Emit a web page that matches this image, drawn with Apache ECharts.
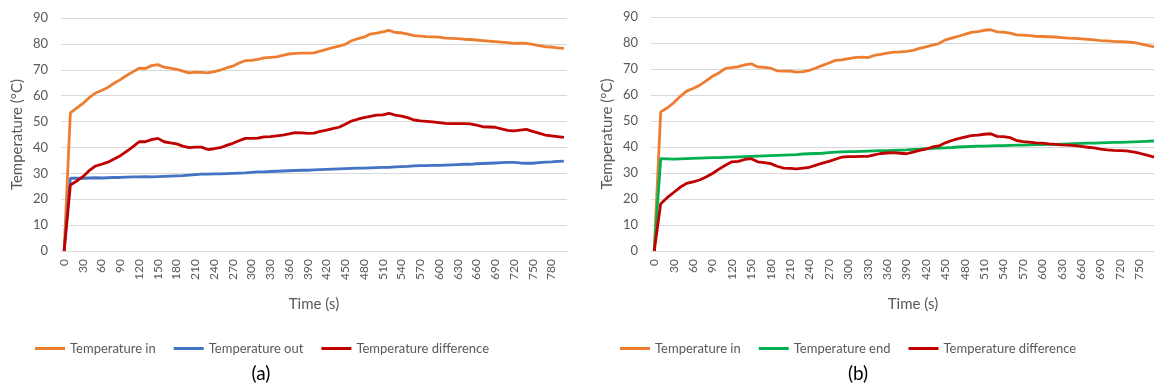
<!DOCTYPE html>
<html><head><meta charset="utf-8">
<script src="https://cdn.jsdelivr.net/npm/echarts@6/dist/echarts.min.js"></script>
<style>html,body{margin:0;padding:0;background:#fff}#c{width:1154px;height:385px}</style>
</head><body><div id="c"></div>
<script>
// time categories (s), every 10 s
var times = [];
for (var t = 0; t <= 800; t += 10) times.push(String(t));

// Chart (a)
var aTempIn = [0,53.4,55.2,57,59.2,61,62,63.2,64.8,66.2,67.8,69.2,70.6,70.5,71.6,72,71,70.6,70.2,69.5,68.8,69.1,69,68.8,69.3,69.9,70.7,71.4,72.6,73.5,73.6,74,74.6,74.8,75,75.6,76.1,76.3,76.4,76.4,76.5,77.2,77.9,78.6,79.1,79.8,81.2,82,82.6,83.8,84.2,84.6,85.2,84.4,84.3,83.8,83.2,83,82.8,82.7,82.6,82.2,82.1,82,81.8,81.7,81.5,81.3,81.1,80.9,80.7,80.5,80.2,80.3,80.2,79.8,79.3,78.9,78.8,78.5,78.3];
var aTempOut = [0,28.1,28.1,28.1,28.2,28.3,28.2,28.3,28.4,28.4,28.5,28.6,28.6,28.7,28.6,28.7,28.8,28.9,29,29.1,29.3,29.5,29.7,29.7,29.8,29.8,29.9,30,30.1,30.2,30.4,30.6,30.6,30.7,30.8,30.9,31,31.1,31.2,31.2,31.3,31.4,31.5,31.6,31.7,31.8,31.9,32,32,32.1,32.2,32.3,32.3,32.5,32.6,32.7,32.9,33,33,33.1,33.1,33.2,33.3,33.4,33.5,33.5,33.7,33.8,33.9,34,34.1,34.2,34.2,34,33.9,33.9,34.1,34.3,34.4,34.6,34.7];
var aTempDiff = [0,25.5,27,28.7,31,32.8,33.5,34.3,35.5,36.8,38.5,40.2,42.2,42.2,43,43.5,42.2,41.8,41.4,40.5,39.9,40.1,40.1,39.2,39.5,39.9,40.8,41.6,42.6,43.5,43.5,43.6,44.1,44.2,44.5,44.8,45.2,45.7,45.6,45.4,45.5,46.2,46.7,47.3,47.8,49,50.2,50.9,51.5,52,52.5,52.6,53.2,52.5,52.1,51.5,50.6,50.3,50.1,49.9,49.6,49.3,49.2,49.2,49.2,49.1,48.6,48,47.9,47.8,47.2,46.6,46.4,46.7,47,46.2,45.5,44.8,44.5,44.2,43.9];

// Chart (b)
var bTempIn = [0,53.5,55,57,59.4,61.5,62.5,63.7,65.4,67.2,68.5,70.2,70.5,70.9,71.6,72,70.8,70.6,70.3,69.3,69.2,69.2,68.8,69,69.5,70.4,71.4,72.3,73.3,73.5,74,74.4,74.6,74.4,75.2,75.6,76.1,76.5,76.6,76.8,77.2,77.9,78.5,79.2,79.8,81.2,81.9,82.6,83.3,84.1,84.4,84.9,85.1,84.3,84.2,83.8,83.1,83,82.8,82.6,82.5,82.4,82.3,82.1,81.9,81.8,81.6,81.4,81.2,80.9,80.8,80.6,80.5,80.4,80.2,79.8,79.2,78.7,78.3,78,77.8];
var bTempEnd = [0,35.5,35.4,35.3,35.4,35.5,35.6,35.7,35.8,35.9,35.9,36,36.1,36.2,36.3,36.4,36.5,36.6,36.7,36.8,36.9,37,37.1,37.3,37.4,37.5,37.6,37.8,38,38.1,38.2,38.2,38.3,38.4,38.5,38.6,38.6,38.7,38.8,38.9,39.1,39.2,39.4,39.5,39.6,39.7,39.8,40,40.1,40.2,40.3,40.3,40.4,40.5,40.5,40.6,40.7,40.7,40.8,40.9,40.9,41,41,41.1,41.2,41.3,41.4,41.5,41.5,41.6,41.7,41.8,41.8,41.9,42,42.1,42.2,42.3,42.4,42.4,42.5];
var bTempDiff = [0,18.2,20.5,22.5,24.5,26,26.6,27.3,28.5,29.8,31.5,33,34.3,34.5,35.2,35.5,34.3,34,33.6,32.6,31.9,31.8,31.6,31.9,32.2,33,33.8,34.5,35.3,36.1,36.3,36.3,36.4,36.4,37,37.5,37.7,37.8,37.6,37.4,38,38.7,39.2,40,40.4,41.6,42.5,43.2,43.8,44.4,44.6,44.9,45.1,44.1,44,43.6,42.5,42.1,41.9,41.6,41.5,41.2,41,40.8,40.7,40.5,40.2,39.9,39.7,39.2,38.9,38.7,38.6,38.5,38.1,37.6,37,36.3,35.8,35.5,35.2];

var FONT = 'Lato';
var GREY = '#595959';
var C_IN = '#ED7D31', C_OUT = '#4472C4', C_DIFF = '#C00000', C_END = '#00B050';

function xAxis(gi) {
  return {
    type: 'category', gridIndex: gi, data: times, boundaryGap: true,
    name: 'Time (s)', nameLocation: 'middle', nameGap: 46,
    nameTextStyle: {color: GREY, fontFamily: FONT, fontSize: 15},
    axisLine: {lineStyle: {color: '#D9D9D9'}},
    axisTick: {show: false},
    axisLabel: {interval: 2, rotate: 90, color: GREY, fontFamily: FONT, fontSize: 12, margin: 8}
  };
}
function yAxis(gi) {
  return {
    type: 'value', gridIndex: gi, min: 0, max: 90, interval: 10,
    name: 'Temperature (°C)', nameLocation: 'middle', nameGap: 36,
    nameTextStyle: {color: GREY, fontFamily: FONT, fontSize: 15},
    axisLine: {show: false}, axisTick: {show: false},
    axisLabel: {color: GREY, fontFamily: FONT, fontSize: 13, margin: 13},
    splitLine: {lineStyle: {color: '#D9D9D9', width: 1}}
  };
}
function line(name, data, color, gi) {
  return {
    name: name, type: 'line', data: data, xAxisIndex: gi, yAxisIndex: gi,
    symbol: 'none', lineStyle: {width: 2.8, color: color}, itemStyle: {color: color},
    animation: false
  };
}

var chart = echarts.init(document.getElementById('c'), null, {renderer: 'canvas'});
chart.setOption({
  animation: false,
  backgroundColor: '#fff',
  grid: [
    {left: 61, top: 18, width: 506, height: 233, outerBoundsMode: 'none', containLabel: false},
    {left: 651, top: 17, width: 524, height: 234, outerBoundsMode: 'none', containLabel: false}
  ],
  xAxis: [xAxis(0), xAxis(1)],
  yAxis: [yAxis(0), yAxis(1)],
  legend: [
    {data: ['Temperature in', 'Temperature out', 'Temperature difference'], left: 30, top: 337,
     icon: 'rect', itemWidth: 30, itemHeight: 3, itemGap: 18,
     textStyle: {color: GREY, fontFamily: FONT, fontSize: 13}},
    {data: ['Temperature in', 'Temperature end', 'Temperature difference'], left: 615, top: 337,
     icon: 'rect', itemWidth: 30, itemHeight: 3, itemGap: 18,
     textStyle: {color: GREY, fontFamily: FONT, fontSize: 13}}
  ],
  graphic: [
    {type: 'text', x: 261, y: 374, style: {text: '(a)', fill: '#000', font: '19px ' + FONT, textAlign: 'center', textVerticalAlign: 'middle'}},
    {type: 'text', x: 858, y: 374, style: {text: '(b)', fill: '#000', font: '19px ' + FONT, textAlign: 'center', textVerticalAlign: 'middle'}}
  ],
  series: [
    line('Temperature in', aTempIn, C_IN, 0),
    line('Temperature out', aTempOut, C_OUT, 0),
    line('Temperature difference', aTempDiff, C_DIFF, 0),
    line('Temperature in', bTempIn, C_IN, 1),
    line('Temperature end', bTempEnd, C_END, 1),
    line('Temperature difference', bTempDiff, C_DIFF, 1)
  ]
});
</script></body></html>
